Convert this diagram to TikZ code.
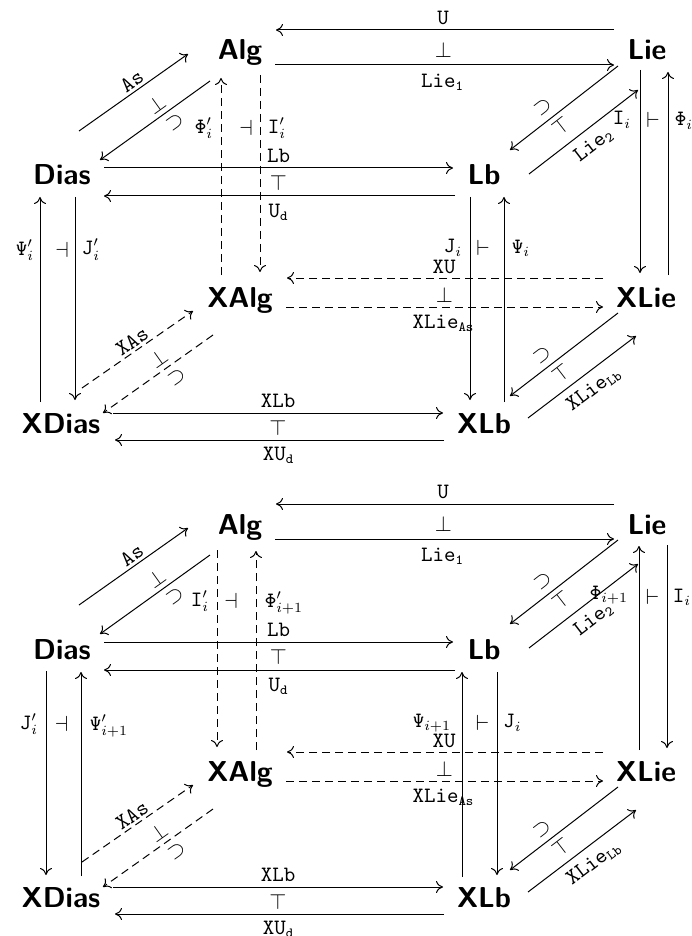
\documentclass[tikz,border=0pt]{standalone}
\usetikzlibrary{arrows.meta}
\tikzset{
  obj/.style={font=\sffamily\bfseries\Large, inner sep=0pt, anchor=base},
  lab/.style={font=\fontsize{10.5}{12}\selectfont, inner sep=0pt},
  slab/.style={font=\fontsize{10.5}{12}\selectfont, sloped},
  arr/.style={-{Computer Modern Rightarrow[length=3.5pt,width=6pt]}, line width=0.5pt},
  darr/.style={arr, dash pattern=on 4pt off 2.5pt},
}
\newcommand\sharedcube[1]{%
  \node[obj] (#1Alg) at (240,60) {Alg};
  \node[obj] (#1Lie) at (647,60) {Lie};
  \node[obj] (#1Dias) at (62,185) {Dias};
  \node[obj] (#1Lb) at (484,185) {Lb};
  \node[obj] (#1XAlg) at (240,307) {XAlg};
  \node[obj] (#1XLie) at (646,307) {XLie};
  \node[obj] (#1XDias) at (61,433) {XDias};
  \node[obj] (#1XLb) at (484,433) {XLb};
  % horizontal pairs
  \draw[arr] ([shift={(-33,-30)}]#1Lie.base) -- ([shift={(36,-30)}]#1Alg.base)
    node[lab, midway, shift={(-2,-12)}] (#1lU) {$\mathtt{U}$};
  \draw[arr] ([shift={(35,5)}]#1Alg.base) -- ([shift={(-33,5)}]#1Lie.base)
    node[lab, midway, shift={(-2,17)}] (#1lLieA) {$\mathtt{Lie}_{\mathtt{1}}$}
    node[lab, midway, shift={(-1,-15)}] (#1aAL) {$\perp$};
  \draw[arr] ([shift={(42,-17)}]#1Dias.base) -- ([shift={(-31,-17)}]#1Lb.base)
    node[lab, midway, shift={(0,-12)}] (#1lLb) {$\mathtt{Lb}$}
    node[lab, midway, shift={(0,15)}] (#1aDL) {$\top$};
  \draw[arr] ([shift={(-29,11)}]#1Lb.base) -- ([shift={(42,11)}]#1Dias.base)
    node[lab, midway, shift={(-1,16)}] (#1lUd) {$\mathtt{U}_{\mathtt{d}}$};
  \draw[darr] ([shift={(-43,-29)}]#1XLie.base) -- ([shift={(47,-29)}]#1XAlg.base)
    node[lab, midway, shift={(-1,-11)}] (#1lXU) {$\mathtt{XU}$};
  \draw[darr] ([shift={(46,0)}]#1XAlg.base) -- ([shift={(-43,0)}]#1XLie.base)
    node[lab, midway, shift={(-1,16)}] (#1lXLieAs) {$\mathtt{XLie}_{\mathtt{As}}$}
    node[lab, midway, shift={(0,-12)}] (#1aXAL) {$\perp$};
  \draw[arr] ([shift={(52,-20)}]#1XDias.base) -- ([shift={(-41,-20)}]#1XLb.base)
    node[lab, midway, shift={(0,-12)}] (#1lXLb) {$\mathtt{XLb}$}
    node[lab, midway, shift={(0,15)}] (#1aXDL) {$\top$};
  \draw[arr] ([shift={(-40,7)}]#1XLb.base) -- ([shift={(54,7)}]#1XDias.base)
    node[lab, midway, shift={(-1,15)}] (#1lXUd) {$\mathtt{XU}_{\mathtt{d}}$};
  % diagonals
  \draw[arr] ([shift={(17,-54)}]#1Dias.base) -- ([shift={(-52,-6)}]#1Alg.base)
    node[slab, pos=0.54, above, inner sep=1.5pt] (#1lAs) {$\mathtt{As}$};
  \draw[arr] ([shift={(-30,21)}]#1Alg.base) -- ([shift={(38,-25)}]#1Dias.base)
    node[slab, pos=0.42, above, inner sep=2.3pt] (#1aAD) {$\perp$}
    node[slab, pos=0.39, below, inner sep=3.2pt] (#1iAD) {$\supset$};
  \draw[arr] ([shift={(-29,6)}]#1Lie.base) -- ([shift={(26,-35)}]#1Lb.base)
    node[slab, pos=0.62, above, inner sep=3.4pt] (#1iLL) {$\supset$}
    node[slab, pos=0.60, below, inner sep=2.2pt] (#1aLL) {$\top$};
  \draw[arr] ([shift={(45,-11)}]#1Lb.base) -- ([shift={(-9,30)}]#1Lie.base)
    node[slab, pos=0.5, below, inner sep=4pt] (#1lLieB) {$\mathtt{Lie}_{\mathtt{2}}$};
  \draw[darr] ([shift={(21,-45)}]#1XDias.base) -- ([shift={(-47,4)}]#1XAlg.base)
    node[slab, pos=0.5, above, inner sep=1.2pt] (#1lXAs) {$\mathtt{XAs}$};
  \draw[darr] ([shift={(-27,28)}]#1XAlg.base) -- ([shift={(42,-20)}]#1XDias.base)
    node[slab, pos=0.43, above, inner sep=2.3pt] (#1aXAD) {$\perp$}
    node[slab, pos=0.40, below, inner sep=3.2pt] (#1iXAD) {$\supset$};
  \draw[arr] ([shift={(-28,6)}]#1XLie.base) -- ([shift={(26,-37)}]#1XLb.base)
    node[slab, pos=0.63, above, inner sep=3pt] (#1iXLL) {$\supset$}
    node[slab, pos=0.60, below, inner sep=2.3pt] (#1aXLL) {$\top$};
  \draw[arr] ([shift={(44,-15)}]#1XLb.base) -- ([shift={(-10,29)}]#1XLie.base)
    node[slab, pos=0.515, below, inner sep=4pt] (#1lXLieLb) {$\mathtt{XLie}_{\mathtt{Lb}}$};
}
\begin{document}
\begin{tikzpicture}[x=0.5pt,y=-0.5pt]
\useasboundingbox (0,0) rectangle (691,936);
% ---------------- top cube ----------------
\sharedcube{t}
\draw[arr] ([shift={(-21,-31)}]tXDias.base) -- ([shift={(-22,12)}]tDias.base)
  node[lab, pos=0.74, shift={(-15,0)}] (tlPsiP) {$\mathtt{\Psi}'_i$};
\draw[arr] ([shift={(13,12)}]tDias.base) -- ([shift={(14,-33)}]tXDias.base)
  node[lab, pos=0.26, shift={(16,0)}] (tlJP) {$\mathtt{J}'_i$}
  node[lab, pos=0.26, shift={(-13,0)}] (taD) {$\dashv$};
\draw[darr] ([shift={(-19,-32)}]tXAlg.base) -- ([shift={(-19,18)}]tAlg.base)
  node[lab, pos=0.746, shift={(-17,0)}] (tlPhiP) {$\mathtt{\Phi}'_i$};
\draw[darr] ([shift={(20,15)}]tAlg.base) -- ([shift={(20,-35)}]tXAlg.base)
  node[lab, pos=0.27, shift={(17,0)}] (tlIP) {$\mathtt{I}'_i$}
  node[lab, pos=0.27, shift={(-14,0)}] (taA) {$\dashv$};
\draw[arr] ([shift={(-14,12)}]tLb.base) -- ([shift={(-14,-33)}]tXLb.base)
  node[lab, pos=0.25, shift={(-17,0)}] (tlJ) {$\mathtt{J}_i$}
  node[lab, pos=0.25, shift={(13,0)}] (taL) {$\vdash$};
\draw[arr] ([shift={(20,-31)}]tXLb.base) -- ([shift={(20,12)}]tLb.base)
  node[lab, pos=0.75, shift={(17,0)}] (tlPsi) {$\mathtt{\Psi}_i$};
\draw[arr] ([shift={(-7,10)}]tLie.base) -- ([shift={(-6,-34)}]tXLie.base)
  node[lab, pos=0.246, shift={(-18,0)}] (tlI) {$\mathtt{I}_i$}
  node[lab, pos=0.246, shift={(13,0)}] (taLie) {$\vdash$};
\draw[arr] ([shift={(22,-32)}]tXLie.base) -- ([shift={(21,12)}]tLie.base)
  node[lab, pos=0.76, shift={(16,0)}] (tlPhi) {$\mathtt{\Phi}_i$};
% ---------------- bottom cube ----------------
\begin{scope}[shift={(0,474)}]
\sharedcube{b}
\draw[arr] ([shift={(-16,12)}]bDias.base) -- ([shift={(-15,-32)}]bXDias.base)
  node[lab, pos=0.26, shift={(-17,0)}] (blJP) {$\mathtt{J}'_i$}
  node[lab, pos=0.26, shift={(15.5,0)}] (baD) {$\dashv$};
\draw[arr] ([shift={(20,-31)}]bXDias.base) -- ([shift={(19,13)}]bDias.base)
  node[lab, pos=0.735, shift={(28,0)}] (blPsiP) {$\mathtt{\Psi}'_{i+1}$};
\draw[darr] ([shift={(-23,16)}]bAlg.base) -- ([shift={(-23,-34)}]bXAlg.base)
  node[lab, pos=0.26, shift={(-17,0)}] (blIP) {$\mathtt{I}'_i$}
  node[lab, pos=0.26, shift={(14,0)}] (baA) {$\dashv$};
\draw[darr] ([shift={(16,-31)}]bXAlg.base) -- ([shift={(16,17)}]bAlg.base)
  node[lab, pos=0.74, shift={(28,0)}] (blPhiP) {$\mathtt{\Phi}'_{i+1}$};
\draw[arr] ([shift={(-22,-30)}]bXLb.base) -- ([shift={(-22,13)}]bLb.base)
  node[lab, pos=0.75, shift={(-30,0)}] (blPsi) {$\mathtt{\Psi}_{i+1}$};
\draw[arr] ([shift={(13,13)}]bLb.base) -- ([shift={(13,-32)}]bXLb.base)
  node[lab, pos=0.25, shift={(15.5,0)}] (blJ) {$\mathtt{J}_i$}
  node[lab, pos=0.25, shift={(-14.5,0)}] (baL) {$\vdash$};
\draw[arr] ([shift={(-7,-31)}]bXLie.base) -- ([shift={(-8,12)}]bLie.base)
  node[lab, pos=0.76, shift={(-30,0)}] (blPhi) {$\mathtt{\Phi}_{i+1}$};
\draw[arr] ([shift={(20,11)}]bLie.base) -- ([shift={(21,-33)}]bXLie.base)
  node[lab, pos=0.256, shift={(15,0)}] (blI) {$\mathtt{I}_i$}
  node[lab, pos=0.256, shift={(-14.5,0)}] (baLie) {$\vdash$};
\end{scope}
\end{tikzpicture}
\end{document}
